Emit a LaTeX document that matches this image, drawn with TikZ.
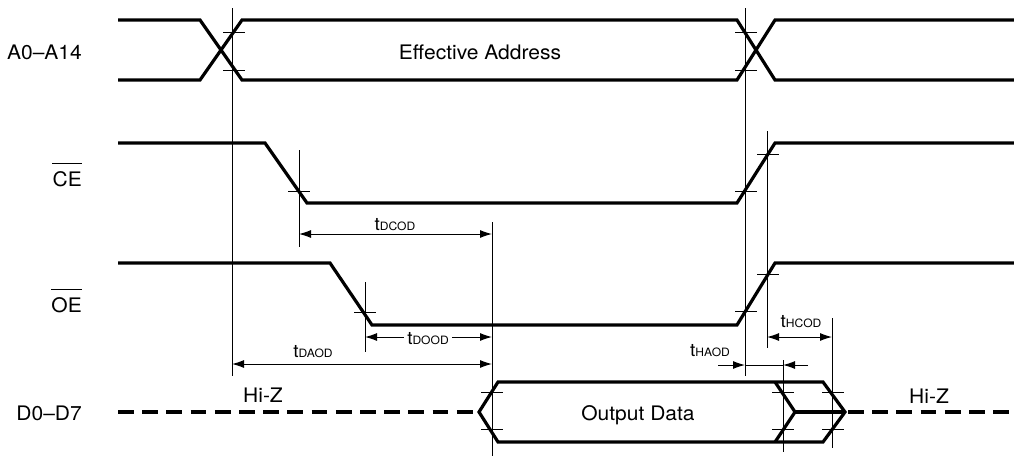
\documentclass[tikz,border=0pt]{standalone}
\usepackage{fontspec}
\setmainfont{TeX Gyre Heros}[FakeStretch=1.05]
\usetikzlibrary{arrows.meta}
\newcommand\tlab[1]{t{\fontsize{11.5}{12}\selectfont #1}}
\begin{document}
\begin{tikzpicture}[x=1pt,y=-1pt,
  sig/.style={line width=3.2pt,line join=miter,line cap=butt},
  hiz/.style={sig,dash pattern=on 15.7pt off 8.5pt},
  refline/.style={line width=1pt},
  tickmark/.style={line width=1pt},
  dimarrow/.style={line width=1pt,{Latex[length=12pt,width=8pt]}-{Latex[length=12pt,width=8pt]}},
  onearrow/.style={line width=1pt,-{Latex[length=12pt,width=8pt]}},
  siglabel/.style={inner sep=0pt,anchor=base east,font=\fontsize{20}{24}\selectfont},
  txt/.style={inner sep=0pt,anchor=base,font=\fontsize{20}{24}\selectfont},
  tlabel/.style={inner sep=0pt,anchor=base,font=\fontsize{18}{20}\selectfont},
  bar/.style={line width=1pt}
]
\useasboundingbox (0,0) rectangle (1014,458);

% ---- signal labels
\node[siglabel] (la) at (82,59) {A0–A14};
\node[siglabel] (lce) at (82,186) {CE};
\node[siglabel] (loe) at (82,312) {OE};
\node[siglabel] (ld) at (82,420) {D0–D7};
\draw[bar] ([yshift=7pt]lce.north west) -- ([yshift=7pt]lce.north east);
\draw[bar] ([yshift=7pt]loe.north west) -- ([yshift=7pt]loe.north east);

% ---- address bus
\draw[sig] (118,20) -- (200,20) -- (242,80) -- (737,80) -- (775,20) -- (1014,20);
\draw[sig] (118,80) -- (200,80) -- (242,20) -- (737,20) -- (775,80) -- (1014,80);
\node[txt] (ea) at (480,59) {Effective Address};

% ---- CE
\draw[sig] (118,143) -- (265,143) -- (307,203) -- (737,203) -- (775,143) -- (1014,143);

% ---- OE
\draw[sig] (118,263) -- (330,263) -- (372,325) -- (737,325) -- (775,263) -- (1014,263);

% ---- data bus
\draw[hiz] (118,412) -- (473,412);
\draw[sig] (479,412) -- (498,382) -- (823,382) -- (845,412) -- (823,442) -- (498,442) -- cycle;
\draw[sig] (775,382) -- (795,412) -- (775,442);
\draw[sig] (795,412) -- (845,412);
\draw[hiz] (848,412) -- (1014,412);
\node[txt] (od) at (638,420) {Output Data};
\node[txt] (hz1) at (263,402) {Hi-Z};
\node[txt] (hz2) at (929,403) {Hi-Z};

% ---- reference lines
\coordinate (v1t) at (232,8);   \coordinate (v1b) at (232,376);
\coordinate (v2t) at (745,8);   \coordinate (v2b) at (745,376);
\coordinate (v3t) at (299,150); \coordinate (v3b) at (299,247);
\coordinate (v4t) at (767,131); \coordinate (v4b) at (767,348);
\coordinate (v5t) at (492,222); \coordinate (v5b) at (492,456);
\coordinate (v6t) at (365,282); \coordinate (v6b) at (365,352);
\coordinate (v7t) at (783,360); \coordinate (v7b) at (783,452);
\coordinate (v8t) at (832,318); \coordinate (v8b) at (832,448);
\foreach \v in {1,...,8} \draw[refline] (v\v t) -- (v\v b);

% ---- tick marks
\foreach \p in {(234,32),(234,70),(746,32),(746,70),
                (299,191),(746,191),(768,154),
                (365,312),(746,311),(768,274),
                (492,392),(492,429),(783,392),(783,429),(833,392),(833,429)}
  \draw[tickmark] \p ++(-11,0) -- ++(22,0);

% ---- timing dimensions
\coordinate (dcA) at (299,234); \coordinate (dcB) at (492,234);
\draw[dimarrow] (dcA) -- (dcB);
\node[tlabel] (tdcod) at (395,230) {\tlab{DCOD}};

\coordinate (doA) at (365,337); \coordinate (doB) at (492,337);
\draw[dimarrow] (doA) -- (doB);
\node[tlabel,fill=white,inner xsep=3pt,inner ysep=1pt] (tdood) at (428,344) {\tlab{DOOD}};

\coordinate (daA) at (232,364); \coordinate (daB) at (492,364);
\draw[dimarrow] (daA) -- (daB);
\node[tlabel] (tdaod) at (313,357) {\tlab{DAOD}};

\coordinate (hcA) at (767,337); \coordinate (hcB) at (832,337);
\draw[dimarrow] (hcA) -- (hcB);
\node[tlabel] (thcod) at (801,327) {\tlab{HCOD}};

\coordinate (haL) at (718,365); \coordinate (haA) at (745,365);
\coordinate (haB) at (783,365); \coordinate (haR) at (808,365);
\draw[onearrow] (haL) -- (haA);
\draw[refline] (haA) -- (haB);
\draw[onearrow] (haR) -- (haB);
\node[tlabel] (thaod) at (710,356) {\tlab{HAOD}};
\end{tikzpicture}
\end{document}
